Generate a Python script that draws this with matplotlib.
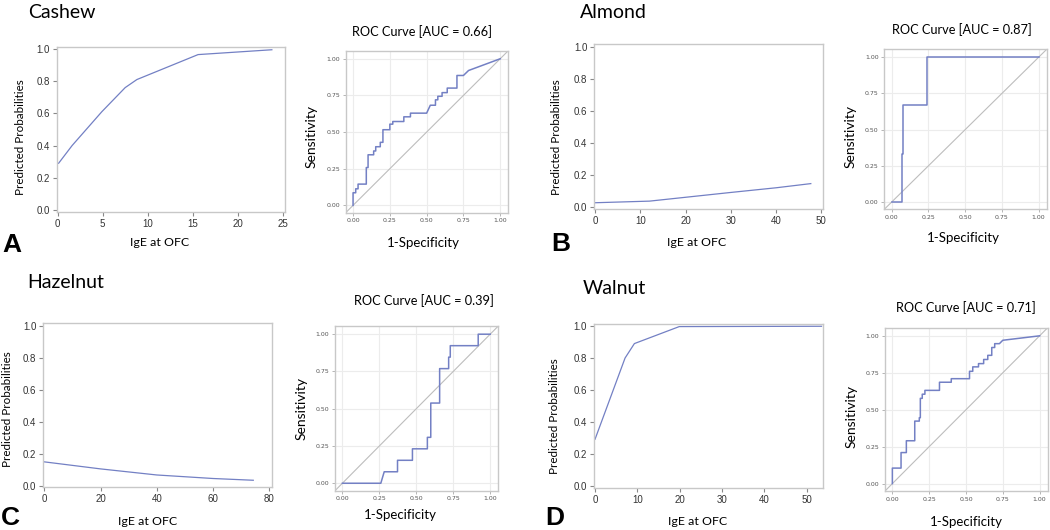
import matplotlib
matplotlib.use("Agg")
import matplotlib.pyplot as plt

W, H = 1050, 530

# predicted probability curves (IgE at OFC vs predicted probability)
cashew_x = [0.1, 1.6, 4.9, 7.5, 8.8, 15.6, 23.8]
cashew_p = [0.29, 0.40, 0.61, 0.76, 0.81, 0.965, 0.995]

almond_x = [0.0, 12.0, 20.0, 30.0, 40.0, 47.7]
almond_p = [0.028, 0.038, 0.062, 0.092, 0.121, 0.147]

hazel_x = [0.0, 20.0, 40.0, 60.0, 74.3]
hazel_p = [0.148, 0.104, 0.066, 0.044, 0.033]

walnut_x = [0.0, 7.1, 9.3, 19.9, 53.5]
walnut_p = [0.293, 0.80, 0.89, 0.996, 0.998]

# ROC curves (1-specificity, sensitivity)
cashew_fpr = [0, 0, 0.018, 0.018, 0.034, 0.034, 0.09, 0.09, 0.102, 0.102, 0.14, 0.14,
              0.154, 0.154, 0.185, 0.185, 0.203, 0.203, 0.25, 0.25, 0.27, 0.27, 0.345,
              0.345, 0.39, 0.39, 0.50, 0.525, 0.56, 0.56, 0.576, 0.576, 0.605, 0.605,
              0.64, 0.64, 0.706, 0.706, 0.75, 0.785, 1.0]
cashew_tpr = [0, 0.086, 0.086, 0.113, 0.113, 0.145, 0.145, 0.258, 0.258, 0.345, 0.345,
              0.371, 0.371, 0.40, 0.40, 0.43, 0.43, 0.516, 0.516, 0.554, 0.554, 0.572,
              0.572, 0.604, 0.604, 0.629, 0.629, 0.683, 0.683, 0.72, 0.72, 0.744, 0.744,
              0.769, 0.769, 0.80, 0.80, 0.886, 0.886, 0.92, 1.0]

almond_fpr = [0, 0.068, 0.068, 0.075, 0.075, 0.243, 0.243, 1.0]
almond_tpr = [0, 0, 0.333, 0.333, 0.667, 0.667, 1.0, 1.0]

hazel_fpr = [0, 0.26, 0.283, 0.373, 0.373, 0.474, 0.474, 0.575, 0.575, 0.598, 0.598,
             0.658, 0.658, 0.719, 0.719, 0.73, 0.73, 0.919, 0.919, 1.0]
hazel_tpr = [0, 0, 0.077, 0.077, 0.154, 0.154, 0.231, 0.231, 0.308, 0.308, 0.538,
             0.538, 0.769, 0.769, 0.846, 0.846, 0.923, 0.923, 1.0, 1.0]

walnut_fpr = [0, 0, 0.059, 0.059, 0.095, 0.095, 0.152, 0.152, 0.183, 0.183, 0.19, 0.19,
              0.203, 0.203, 0.221, 0.221, 0.32, 0.32, 0.40, 0.40, 0.524, 0.524, 0.546,
              0.546, 0.585, 0.585, 0.62, 0.62, 0.648, 0.648, 0.675, 0.675, 0.695, 0.695,
              0.727, 0.75, 1.0]
walnut_tpr = [0, 0.105, 0.105, 0.21, 0.21, 0.29, 0.29, 0.423, 0.423, 0.446, 0.446,
              0.577, 0.577, 0.605, 0.605, 0.631, 0.631, 0.686, 0.686, 0.71, 0.71, 0.76,
              0.76, 0.79, 0.79, 0.812, 0.812, 0.84, 0.84, 0.868, 0.868, 0.921, 0.921,
              0.947, 0.947, 0.97, 1.0]

names = ["Cashew", "Almond", "Hazelnut", "Walnut"]
letters = ["A", "B", "C", "D"]
aucs = ["0.66", "0.87", "0.39", "0.71"]
prob_ticks = [[0, 5, 10, 15, 20, 25], [0, 10, 20, 30, 40, 50],
              [0, 20, 40, 60, 80], [0, 10, 20, 30, 40, 50]]

LINE = "#7380c4"
FRAME = "#c8c8c8"
TXT = "Lato"

fig = plt.figure(figsize=(W / 100, H / 100), dpi=100)


def rect(l, t, r, b):
    return [l / W, 1 - b / H, (r - l) / W, (b - t) / H]


def px(x, y):
    return x / W, 1 - y / H


def prob_panel(box, xs, ps, ticks, xlim):
    ax = fig.add_axes(rect(*box))
    ax.plot(xs, ps, color=LINE, lw=0.9)
    ax.set_xlim(xlim)
    ax.set_ylim(-0.011, 1.014)
    ax.set_xticks(ticks)
    ax.set_yticks([0, 0.2, 0.4, 0.6, 0.8, 1.0])
    ax.set_yticklabels(["0.0", "0.2", "0.4", "0.6", "0.8", "1.0"])
    for s in ax.spines.values():
        s.set_color(FRAME)
        s.set_linewidth(1.0)
    ax.tick_params(length=3, width=0.8, color="#888888", labelsize=7,
                   labelcolor="#333333", pad=2)
    for lab in ax.get_xticklabels() + ax.get_yticklabels():
        lab.set_family("Liberation Sans")
    return ax


def roc_panel(box, fpr, tpr):
    ax = fig.add_axes(rect(*box))
    ticks = [0, 0.25, 0.5, 0.75, 1.0]
    ax.set_xlim(-0.05, 1.055)
    ax.set_ylim(-0.05, 1.055)
    ax.set_xticks(ticks)
    ax.set_yticks(ticks)
    ax.set_xticklabels(["0.00", "0.25", "0.50", "0.75", "1.00"])
    ax.set_yticklabels(["0.00", "0.25", "0.50", "0.75", "1.00"])
    ax.grid(color="#ececec", lw=0.8)
    ax.set_axisbelow(True)
    ax.axline((0, 0), (1, 1), color="#bdbdbd", lw=0.8)
    ax.plot(fpr, tpr, color=LINE, lw=1.1)
    for s in ax.spines.values():
        s.set_color(FRAME)
        s.set_linewidth(1.0)
    ax.tick_params(length=2, width=0.6, color="#aaaaaa", labelsize=4.5,
                   labelcolor="#555555", pad=2)
    return ax


prob_panel((57, 46.7, 285, 211.7), cashew_x, cashew_p, prob_ticks[0], (-0.08, 25.26))
prob_panel((594.3, 44.3, 823, 209), almond_x, almond_p, prob_ticks[1], (-0.22, 50.4))
prob_panel((43.3, 323.3, 271.7, 487.3), hazel_x, hazel_p, prob_ticks[2], (-0.36, 80.85))
prob_panel((594, 323.7, 823, 488), walnut_x, walnut_p, prob_ticks[3], (-0.24, 53.85))

roc_panel((345.7, 50.7, 508.3, 212.7), cashew_fpr, cashew_tpr)
roc_panel((884.3, 49.3, 1046.7, 209.3), almond_fpr, almond_tpr)
roc_panel((335, 326, 498.3, 490.7), hazel_fpr, hazel_tpr)
roc_panel((885, 327.7, 1047.7, 491), walnut_fpr, walnut_tpr)

# titles (nut names)
for name, (x, y) in zip(names, [(28, 13), (580, 13), (27, 283), (583, 288)]):
    fig.text(*px(x, y), name, fontsize=14, family=TXT, ha="left", va="center")

# ROC titles
for auc, (x, y) in zip(aucs, [(422, 32), (962, 30), (424, 301), (966, 308)]):
    fig.text(*px(x, y), "ROC Curve [AUC = %s]" % auc, fontsize=9.2, family=TXT,
             ha="center", va="center")

# panel letters
for let, (x, y) in zip(letters, [(2, 245), (551, 244), (1, 518), (545, 518)]):
    fig.text(*px(x, y), let, fontsize=19, weight="bold", family="Liberation Sans",
             ha="left", va="center")

# axis labels of probability panels
for (x, y) in [(20, 137), (556.7, 137), (7.3, 409), (555, 416)]:
    fig.text(*px(x, y), "Predicted Probabilities", fontsize=8.4, family=TXT,
             rotation=90, ha="center", va="center")
for (x, y) in [(160, 243), (696.7, 242), (148, 521.7), (698, 521.7)]:
    fig.text(*px(x, y), "IgE at OFC", fontsize=8.9, family=TXT,
             ha="center", va="center")

# axis labels of ROC panels
for (x, y) in [(311.7, 137), (850.7, 137), (301.7, 408), (851.7, 416.7)]:
    fig.text(*px(x, y), "Sensitivity", fontsize=10, family=TXT,
             rotation=90, ha="center", va="center")
for (x, y) in [(423, 243), (963, 238), (400, 515), (966.7, 521.7)]:
    fig.text(*px(x, y), "1-Specificity", fontsize=9.5, family=TXT,
             ha="center", va="center")

fig.savefig("out.png", dpi=100, facecolor="white")
